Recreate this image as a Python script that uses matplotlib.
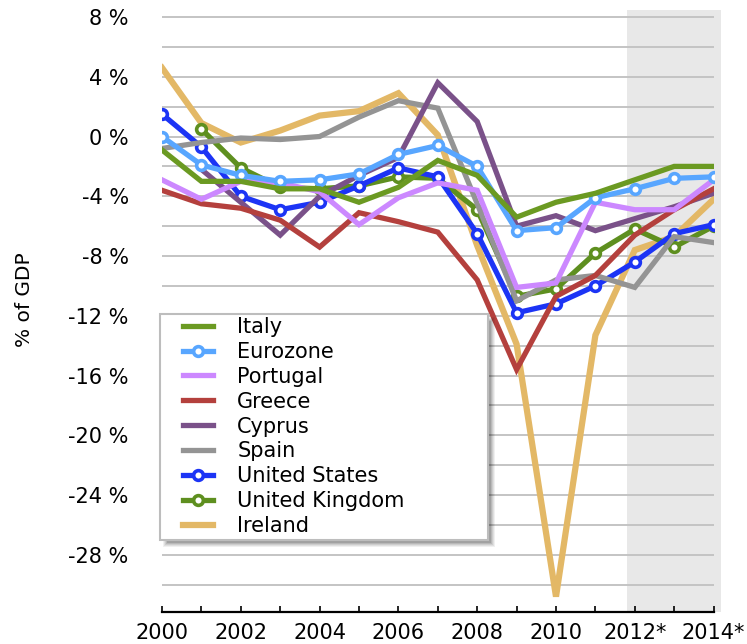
import numpy as np
import matplotlib
matplotlib.use("Agg")
import matplotlib.pyplot as plt
from matplotlib.patches import Rectangle

plt.rcParams['font.family'] = ['DejaVu Sans']

years = list(range(2000, 2015))
nan = np.nan

italy    = [-0.9, -3.0, -3.0, -3.5, -3.5, -4.4, -3.4, -1.6, -2.6, -5.4, -4.4, -3.8, -2.9, -2.0, -2.0]
eurozone = [0.0, -1.9, -2.6, -3.0, -2.9, -2.5, -1.2, -0.6, -2.0, -6.3, -6.1, -4.1, -3.5, -2.8, -2.7]
portugal = [-2.9, -4.2, -3.0, -3.1, -3.7, -5.9, -4.1, -3.1, -3.6, -10.1, -9.8, -4.4, -4.9, -4.9, -2.9]
greece   = [-3.6, -4.5, -4.8, -5.6, -7.4, -5.1, -5.7, -6.4, -9.6, -15.6, -10.7, -9.3, -6.6, -4.9, -3.5]
cyprus   = [nan, -2.2, -4.4, -6.6, -4.0, -2.6, -1.4, 3.6, 1.0, -6.0, -5.3, -6.3, -5.5, -4.7, -3.8]
spain    = [-0.8, -0.4, -0.1, -0.2, 0.0, 1.3, 2.4, 1.9, -4.5, -11.0, -9.6, -9.3, -10.1, -6.7, -7.1]
usa      = [1.5, -0.7, -4.0, -4.9, -4.4, -3.3, -2.1, -2.7, -6.5, -11.8, -11.2, -10.0, -8.4, -6.5, -5.9]
uk       = [nan, 0.5, -2.1, -3.4, -3.5, -3.3, -2.7, -2.8, -4.9, -10.7, -10.2, -7.8, -6.2, -7.4, -6.0]
ireland  = [4.6, 0.9, -0.4, 0.4, 1.4, 1.7, 2.9, 0.1, -7.3, -13.9, -30.8, -13.3, -7.6, -6.7, -4.2]

names = ["Italy", "Eurozone", "Portugal", "Greece", "Cyprus", "Spain",
         "United States", "United Kingdom", "Ireland"]
series = [italy, eurozone, portugal, greece, cyprus, spain, usa, uk, ireland]
colors = ["#6b9a22", "#58a6ff", "#cc88ff", "#b4403d", "#7a5189", "#949494",
          "#1c34f5", "#5e8f1f", "#e3b866"]
markers = [False, True, False, False, False, False, True, True, False]

xtick_labels = ["2000", "", "2002", "", "2004", "", "2006", "", "2008", "",
                "2010", "", "2012*", "", "2014*"]

W, H = 747, 644
ax_l, ax_r, ax_t, ax_b = 162, 713.6, 10, 612
fig = plt.figure(figsize=(W/100, H/100), dpi=100)
ax = fig.add_axes([ax_l/W, 1-ax_b/H, (ax_r-ax_l)/W, (ax_b-ax_t)/H])

def ax_x(px):
    return (px - ax_l) / (ax_r - ax_l)

def ax_y(py):
    return (ax_b - py) / (ax_b - ax_t)

ax.axvspan(2011.8, 2014.2, ymin=0, ymax=1, color="#e8e8e8", zorder=0, clip_on=False, lw=0)

handles = {}
for i in reversed(range(len(names))):
    kw = dict(color=colors[i], lw=4.5 if names[i] == "Ireland" else 3.8,
              solid_joinstyle='miter', zorder=3 + (len(names) - i) * 0.1)
    if markers[i]:
        kw.update(marker='o', markersize=7, markerfacecolor='white',
                  markeredgecolor=colors[i], markeredgewidth=2.6)
    h, = ax.plot(years, series[i], label=names[i], **kw)
    handles[names[i]] = h

ax.set_xlim(2000, 2014)
ax.set_ylim(-31.83, 8.47)

ax.set_yticks(np.arange(-28, 9, 4))
ax.set_yticklabels([f"{v} %" for v in range(-28, 9, 4)])
ax.set_yticks(np.arange(-30, 9, 2), minor=True)
ax.yaxis.grid(True, which='both', color="#c4c4c4", lw=1.4)
ax.set_axisbelow(True)
ax.tick_params(axis='y', which='both', length=0, pad=24, labelsize=15)

ax.set_xticks(years)
ax.set_xticklabels(xtick_labels)
ax.tick_params(axis='x', direction='in', length=4, width=1.2, pad=8, labelsize=15)

for s in ['top', 'right', 'left']:
    ax.spines[s].set_visible(False)
ax.spines['bottom'].set_linewidth(1.6)
ax.spines['bottom'].set_zorder(5)

fig.text(25/W, 1-300/H, "% of GDP", rotation=90, ha='center', va='center', fontsize=14.5)

# legend box with soft shadow
bx0, bx1, by0, by1 = 160, 488, 314, 540
for k, a in enumerate([0.06, 0.07, 0.08, 0.10, 0.12]):
    off = 7 - k
    ax.add_patch(Rectangle((ax_x(bx0 + 3 + k), ax_y(by1 + off)),
                           ax_x(bx1 + off) - ax_x(bx0 + 3 + k),
                           ax_y(by0 + 3 + k) - ax_y(by1 + off),
                           transform=ax.transAxes, facecolor='black', alpha=a,
                           lw=0, zorder=8, clip_on=False))
ax.add_patch(Rectangle((ax_x(bx0), ax_y(by1)), ax_x(bx1) - ax_x(bx0), ax_y(by0) - ax_y(by1),
                       transform=ax.transAxes, facecolor='white', edgecolor="#bdbdbd",
                       lw=1.5, zorder=9, clip_on=False))

leg = ax.legend([handles[n] for n in names], names, loc='upper left',
                bbox_to_anchor=(ax_x(183), ax_y(317)),
                fontsize=15, labelspacing=0.235, handlelength=1.45, handletextpad=1.15,
                borderpad=0.0, borderaxespad=0.0, frameon=False)
leg.set_zorder(10)

fig.savefig("out.png", dpi=100)
